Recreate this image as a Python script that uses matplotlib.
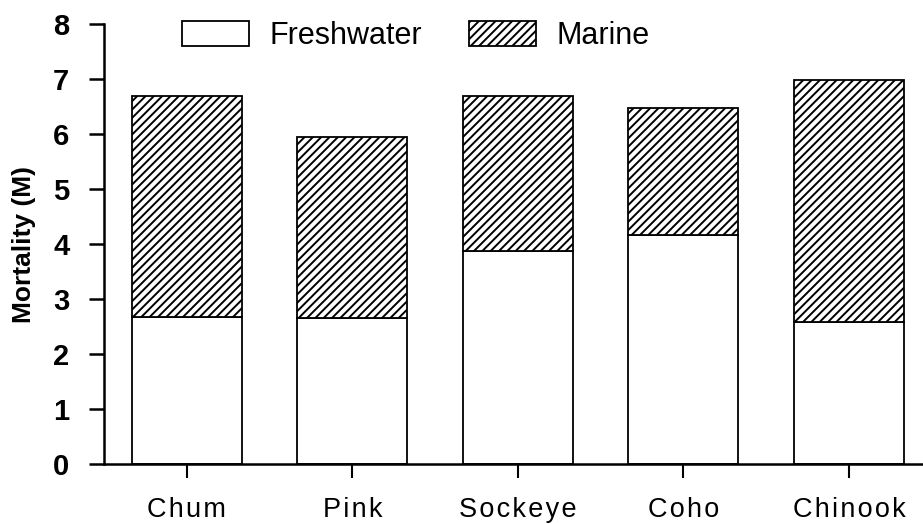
import matplotlib
matplotlib.use("Agg")
import matplotlib.pyplot as plt
import numpy as np

species = ["Chum", "Pink", "Sockeye", "Coho", "Chinook"]
freshwater = [2.67, 2.65, 3.87, 4.16, 2.58]
total = [6.69, 5.95, 6.69, 6.47, 6.98]
marine = [t - f for t, f in zip(total, freshwater)]
yticks = [0, 1, 2, 3, 4, 5, 6, 7, 8]

plt.rcParams['font.family'] = ['Liberation Sans', 'DejaVu Sans']
plt.rcParams['hatch.linewidth'] = 1.4

fig = plt.figure(figsize=(9.23, 5.24), dpi=100)
ax = fig.add_axes([0.1127, 0.1145, 0.8873, 0.8395])

x = np.arange(len(species))
w = 0.665
ax.bar(x, freshwater, w, color='white', edgecolor='black', linewidth=1.3,
       label='Freshwater', zorder=2)
ax.bar(x, marine, w, bottom=freshwater, color='white', edgecolor='black',
       linewidth=1.3, hatch='////', label='Marine', zorder=2)

ax.set_xlim(-0.5, 4.447)
ax.set_ylim(0, 8)
ax.set_yticks(yticks)
ax.set_xticks(x)
# letter-spaced labels, as in the reference
ax.set_xticklabels(['\u200a'.join(s) for s in species], fontsize=19.5)
ax.set_yticklabels([str(v) for v in yticks], fontsize=21, fontweight='bold')
ax.set_ylabel('Mortality (M)', fontsize=19, fontweight='bold', labelpad=12)

for s in ['top', 'right']:
    ax.spines[s].set_visible(False)
for s in ['left', 'bottom']:
    ax.spines[s].set_linewidth(1.8)
ax.tick_params(axis='y', direction='out', length=11, width=1.8, pad=14)
ax.tick_params(axis='x', direction='out', length=10, width=1.5, pad=14)

leg = ax.legend(ncol=2, frameon=False, fontsize=22, handlelength=2.2,
                handleheight=0.85, handletextpad=0.65, columnspacing=1.55,
                loc='upper left', bbox_to_anchor=(182/923, 1 - 21/524),
                bbox_transform=fig.transFigure, borderpad=0, borderaxespad=0)

fig.savefig('out.png', dpi=100)
